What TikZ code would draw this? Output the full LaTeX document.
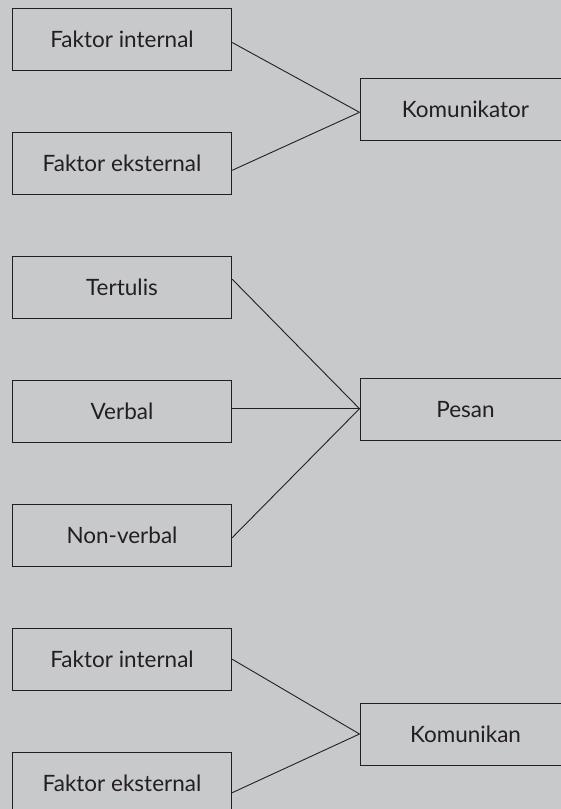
\documentclass[tikz,border=0pt]{standalone}
\usepackage{fontspec}
\setmainfont{Lato}
\definecolor{bggray}{RGB}{200,201,203}
\definecolor{ink}{RGB}{35,31,32}
\begin{document}
\begin{tikzpicture}[x=1pt,y=-1pt,
  box/.style={draw=ink,line width=1pt,minimum height=62pt,inner sep=0pt,
    text=ink,font=\fontsize{22.5}{27}\selectfont},
  leftbox/.style={box,minimum width=219.4pt},
  rightbox/.style={box,minimum width=211pt},
  link/.style={draw=ink,line width=0.9pt}]
\useasboundingbox (0,0) rectangle (561,809);
\clip (0,0) rectangle (561,809);
\fill[bggray] (0,0) rectangle (561,809);

% Komunikator group
\node[leftbox]  (fi1) at (122,39.5)  {Faktor internal};
\node[leftbox]  (fe1) at (122,163.5) {Faktor eksternal};
\node[rightbox] (kor) at (465.5,109.7) {Komunikator};

% Pesan group
\node[leftbox]  (ter) at (122,287.2) {Tertulis};
\node[leftbox]  (ver) at (122,411.2) {Verbal};
\node[leftbox]  (nver) at (122,535)  {Non-verbal};
\node[rightbox] (pes) at (465.5,409.2) {Pesan};

% Komunikan group
\node[leftbox]  (fi2) at (122,659.2) {Faktor internal};
\node[leftbox]  (fe2) at (122,783.2) {Faktor eksternal};
\node[rightbox] (kan) at (465.5,734.3) {Komunikan};

% connectors
\draw[link] ([yshift=-3pt]fi1.east) -- ([yshift=-2.6pt]kor.west);
\draw[link] ([yshift=-6.8pt]fe1.east) -- ([yshift=-2.6pt]kor.west);
\draw[link] ([yshift=8pt]ter.east) -- ([yshift=0.5pt]pes.west);
\draw[link] ([yshift=2.5pt]ver.east) -- ([yshift=0.5pt]pes.west);
\draw[link] ([yshift=-2.7pt]nver.east) -- ([yshift=0.5pt]pes.west);
\draw[link] (fi2.east) -- ([yshift=0.3pt]kan.west);
\draw[link] ([yshift=-9.5pt]fe2.east) -- ([yshift=0.3pt]kan.west);
\end{tikzpicture}
\end{document}
